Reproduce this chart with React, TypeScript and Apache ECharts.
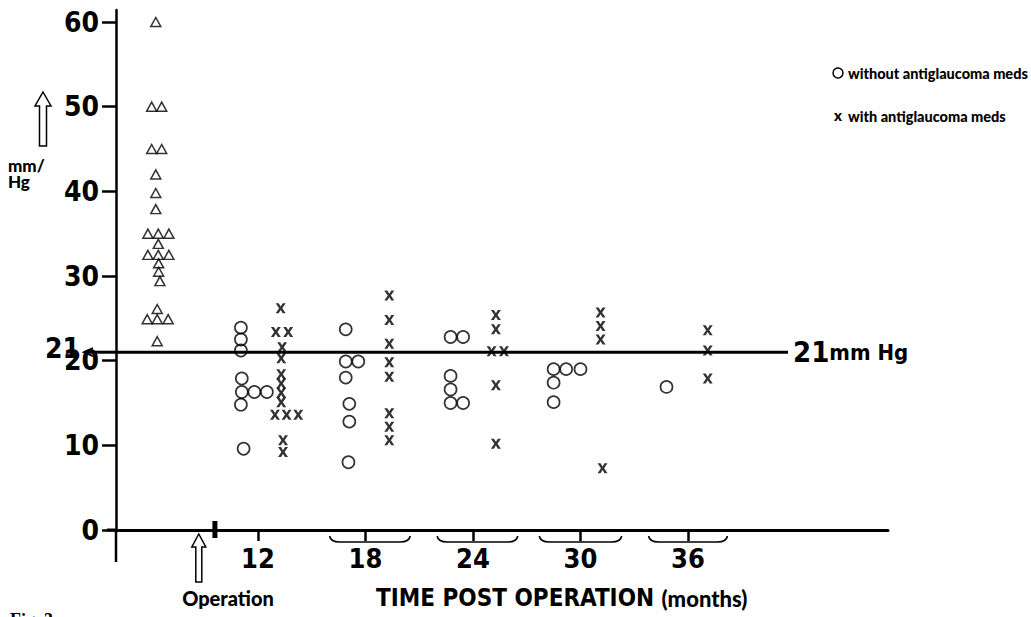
import React, { useEffect, useRef } from "react";
import * as echarts from "echarts";

// ---- axis ticks / labels ----
const monthTicks = [12, 18, 24, 30, 36];
const yTicks = [0, 10, 20, 30, 40, 50, 60];
const threshold = 21;
const xMin = 4.08;
const xMax = 47.16;
const yMin = 0;
const yMax = 61.42;
const lineEnd = 41.58; // where the 21 mm Hg line stops
const operationAt = 8.7;
const breakMarkAt = 9.6;

// brace under each follow-up group: [centre, left, right] in months
const braces = [
  [18, 16.0, 20.5],
  [24, 22.0, 26.5],
  [30, 27.7, 32.3],
  [36, 33.8, 38.2],
];

// pre-operative pressures (triangles): [position, mm Hg]
const preOp = [
  [6.3, 60],
  [6.07, 50], [6.63, 50],
  [6.07, 45], [6.63, 45],
  [6.3, 42], [6.3, 39.8], [6.3, 37.9],
  [5.86, 35], [6.44, 35], [7.03, 35],
  [6.44, 33.8],
  [5.86, 32.5], [6.44, 32.5], [7.03, 32.5],
  [6.46, 31.5], [6.46, 30.5], [6.53, 29.4],
  [6.38, 26.1],
  [5.82, 24.9], [6.38, 24.9], [6.99, 24.9],
  [6.38, 22.3],
];

// without antiglaucoma meds (circles)
const withoutMeds = [
  [11.05, 23.9], [11.05, 22.5], [11.05, 21.2], [11.1, 17.9], [11.1, 16.3], [11.8, 16.3], [12.5, 16.3], [11.05, 14.8], [11.2, 9.6],
  [16.9, 23.7], [16.9, 19.9], [17.6, 19.9], [16.9, 18.0], [17.1, 14.9], [17.1, 12.8], [17.05, 8.0],
  [22.75, 22.8], [23.45, 22.8], [22.75, 18.2], [22.75, 16.6], [22.75, 15.0], [23.45, 15.0],
  [28.5, 19.0], [29.2, 19.0], [30.0, 19.0], [28.5, 17.4], [28.5, 15.1],
  [34.8, 16.9],
];

// with antiglaucoma meds (crosses)
const withMeds = [
  [13.27, 26.2], [13.0, 23.4], [13.69, 23.4], [13.35, 21.6], [13.3, 20.3], [13.3, 18.4], [13.3, 17.3], [13.3, 16.2], [13.3, 15.1],
  [12.95, 13.6], [13.6, 13.6], [14.25, 13.6], [13.4, 10.6], [13.4, 9.2],
  [19.33, 27.7], [19.33, 24.8], [19.33, 22.0], [19.33, 19.8], [19.33, 18.1], [19.33, 13.8], [19.33, 12.2], [19.33, 10.6],
  [25.28, 25.4], [25.28, 23.7], [25.04, 21.1], [25.73, 21.1], [25.28, 17.1], [25.28, 10.2],
  [31.12, 25.7], [31.12, 24.1], [31.12, 22.5], [31.23, 7.3],
  [37.1, 23.6], [37.1, 21.2], [37.1, 17.9],
];

const NARROW = "'Liberation Sans Narrow', 'DejaVu Sans Condensed', 'Liberation Sans', sans-serif";
const GEO = "Lato, 'Open Sans', sans-serif";
const CROSS = "path://M0,0H3L5,3.2L7,0H10L6.6,5L10,10H7L5,6.8L3,10H0L3.4,5Z";

export default function App() {
  const ref = useRef<HTMLDivElement>(null);

  useEffect(() => {
    document.body.style.margin = "0";
    const chart = echarts.init(ref.current!, null, { renderer: "svg" });
    const option: any = {
      animation: false,
      backgroundColor: "#fff",
      grid: { left: 116, right: 143, top: 10, bottom: 87 },
      xAxis: {
        type: "value",
        min: xMin,
        max: xMax,
        splitLine: { show: false },
        axisLine: { onZero: false, lineStyle: { color: "#000", width: 3 } },
        axisTick: { show: true, length: 11, customValues: monthTicks, lineStyle: { color: "#000", width: 2.5 } },
        axisLabel: {
          customValues: monthTicks,
          margin: 15,
          color: "#000",
          fontFamily: NARROW,
          fontWeight: "bold",
          fontSize: 27,
        },
      },
      yAxis: {
        type: "value",
        min: yMin,
        max: yMax,
        splitLine: { show: false },
        axisLine: { onZero: false, lineStyle: { color: "#000", width: 2.5 } },
        axisTick: { show: true, length: 14, customValues: yTicks, lineStyle: { color: "#000", width: 2.5 } },
        axisLabel: {
          customValues: yTicks,
          margin: 17,
          color: "#000",
          fontFamily: NARROW,
          fontWeight: "bold",
          fontSize: 28,
        },
      },
      series: [
        {
          type: "line",
          data: [[xMin, threshold], [lineEnd, threshold]],
          symbol: "none",
          lineStyle: { color: "#000", width: 3 },
          z: 1,
        },
        {
          type: "scatter",
          data: preOp,
          symbol: "triangle",
          symbolSize: [10, 9],
          itemStyle: { color: "rgba(0,0,0,0)", borderColor: "#000", borderWidth: 1.5 },
          z: 3,
        },
        {
          type: "scatter",
          data: withoutMeds,
          symbol: "circle",
          symbolSize: 12,
          itemStyle: { color: "rgba(0,0,0,0)", borderColor: "#000", borderWidth: 1.7 },
          z: 3,
        },
        {
          type: "scatter",
          data: withMeds,
          symbol: CROSS,
          symbolSize: [10, 10],
          itemStyle: { color: "#000" },
          z: 3,
        },
        {
          type: "custom",
          data: braces,
          clip: false,
          renderItem: (params: any, api: any) => {
            const l = api.coord([api.value(1), 0]);
            const r = api.coord([api.value(2), 0]);
            const y = l[1] + 12;
            return {
              type: "path",
              shape: {
                pathData: `M${l[0]},${y - 6} Q${l[0] + 1},${y} ${l[0] + 10},${y} L${r[0] - 10},${y} Q${r[0] - 1},${y} ${r[0]},${y - 6}`,
              },
              style: { fill: "none", stroke: "#000", lineWidth: 1.6 },
            };
          },
        },
      ],
    };
    chart.setOption(option);

    const px = (x: number, y: number) => chart.convertToPixel({ gridIndex: 0 }, [x, y]) as number[];
    const p21 = px(xMin, threshold);
    const p0 = px(xMin, 0);
    const op = px(operationAt, 0);
    const br = px(breakMarkAt, 0);
    const lineEndPx = px(lineEnd, threshold);

    const opTop = op[1] + 4;
    const opBot = op[1] + 52;
    const cx = op[0];

    const ax = 43;
    const aTop = 92;
    const aBot = 146;

    chart.setOption({
      graphic: [
        // stub of 21 line left of axis, with arrow head
        { type: "line", shape: { x1: 85, y1: p21[1], x2: p21[0], y2: p21[1] }, style: { stroke: "#000", lineWidth: 3 } },
        { type: "polyline", shape: { points: [[93, p21[1] - 4], [84, p21[1]], [93, p21[1] + 4]] }, style: { stroke: "#000", lineWidth: 2, fill: "none" } },
        { type: "text", style: { text: "21", x: 80, y: p21[1] - 4, textAlign: "right", textVerticalAlign: "middle", font: `bold 28px ${NARROW}`, fill: "#000" } },
        // x axis stub left of y axis, y axis stub below x axis
        { type: "line", shape: { x1: 107, y1: p0[1], x2: p0[0], y2: p0[1] }, style: { stroke: "#000", lineWidth: 3 } },
        { type: "line", shape: { x1: p0[0], y1: p0[1], x2: p0[0], y2: p0[1] + 32 }, style: { stroke: "#000", lineWidth: 2.5 } },
        // thick break mark
        { type: "rect", shape: { x: br[0] - 2.5, y: br[1] - 9, width: 5, height: 17 }, style: { fill: "#000" } },
        // operation arrow
        {
          type: "polygon",
          shape: {
            points: [
              [cx, opTop], [cx + 7, opTop + 13], [cx + 3, opTop + 13], [cx + 3, opBot],
              [cx - 3, opBot], [cx - 3, opTop + 13], [cx - 7, opTop + 13],
            ],
          },
          style: { fill: "#fff", stroke: "#000", lineWidth: 1.5 },
        },
        { type: "text", style: { text: "Operation", x: 228, y: 598, textAlign: "center", textVerticalAlign: "middle", font: `900 20px ${GEO}`, fill: "#000" } },
        {
          type: "text",
          style: {
            text: "{a|TIME POST OPERATION }{b|(months)}",
            x: 376,
            y: 598,
            textVerticalAlign: "middle",
            fill: "#000",
            rich: {
              a: { fontFamily: NARROW, fontWeight: "bold", fontSize: 24, fill: "#000" },
              b: { fontFamily: GEO, fontWeight: 900, fontSize: 22, fill: "#000" },
            },
          },
        },
        // 21 mm Hg label
        {
          type: "text",
          style: {
            text: "{a|21}{b|mm Hg}",
            x: lineEndPx[0] + 5,
            y: lineEndPx[1],
            textVerticalAlign: "middle",
            fill: "#000",
            rich: {
              a: { fontFamily: NARROW, fontWeight: "bold", fontSize: 29, fill: "#000" },
              b: { fontFamily: NARROW, fontWeight: "bold", fontSize: 22, fill: "#000" },
            },
          },
        },
        // y axis title with hollow arrow
        {
          type: "polygon",
          shape: {
            points: [
              [ax, aTop], [ax + 8, aTop + 14], [ax + 3.5, aTop + 14], [ax + 3.5, aBot],
              [ax - 3.5, aBot], [ax - 3.5, aTop + 14], [ax - 8, aTop + 14],
            ],
          },
          style: { fill: "#fff", stroke: "#000", lineWidth: 1.5 },
        },
        {
          type: "text",
          style: {
            text: "mm/\nHg",
            x: 8,
            y: 173,
            textVerticalAlign: "middle",
            lineHeight: 16,
            font: `900 17px ${GEO}`,
            fill: "#000",
          },
        },
        // legend
        { type: "circle", shape: { cx: 838, cy: 73, r: 5 }, style: { fill: "none", stroke: "#000", lineWidth: 1.5 } },
        { type: "text", style: { text: "without antiglaucoma meds", x: 848, y: 73, textVerticalAlign: "middle", font: `900 14.5px ${GEO}`, fill: "#000" } },
        { type: "text", style: { text: "x", x: 834, y: 115, textVerticalAlign: "middle", font: `900 15px ${GEO}`, fill: "#000" } },
        { type: "text", style: { text: "with antiglaucoma meds", x: 848, y: 116, textVerticalAlign: "middle", font: `900 14.5px ${GEO}`, fill: "#000" } },
        // figure caption, cut by the page edge
        { type: "text", style: { text: "Fig. 3", x: 10, y: 611, textVerticalAlign: "top", font: `bold 18px 'Liberation Serif', serif`, fill: "#000" } },
      ],
    });

    return () => chart.dispose();
  }, []);

  return <div ref={ref} style={{ width: 1031, height: 617 }} />;
}
